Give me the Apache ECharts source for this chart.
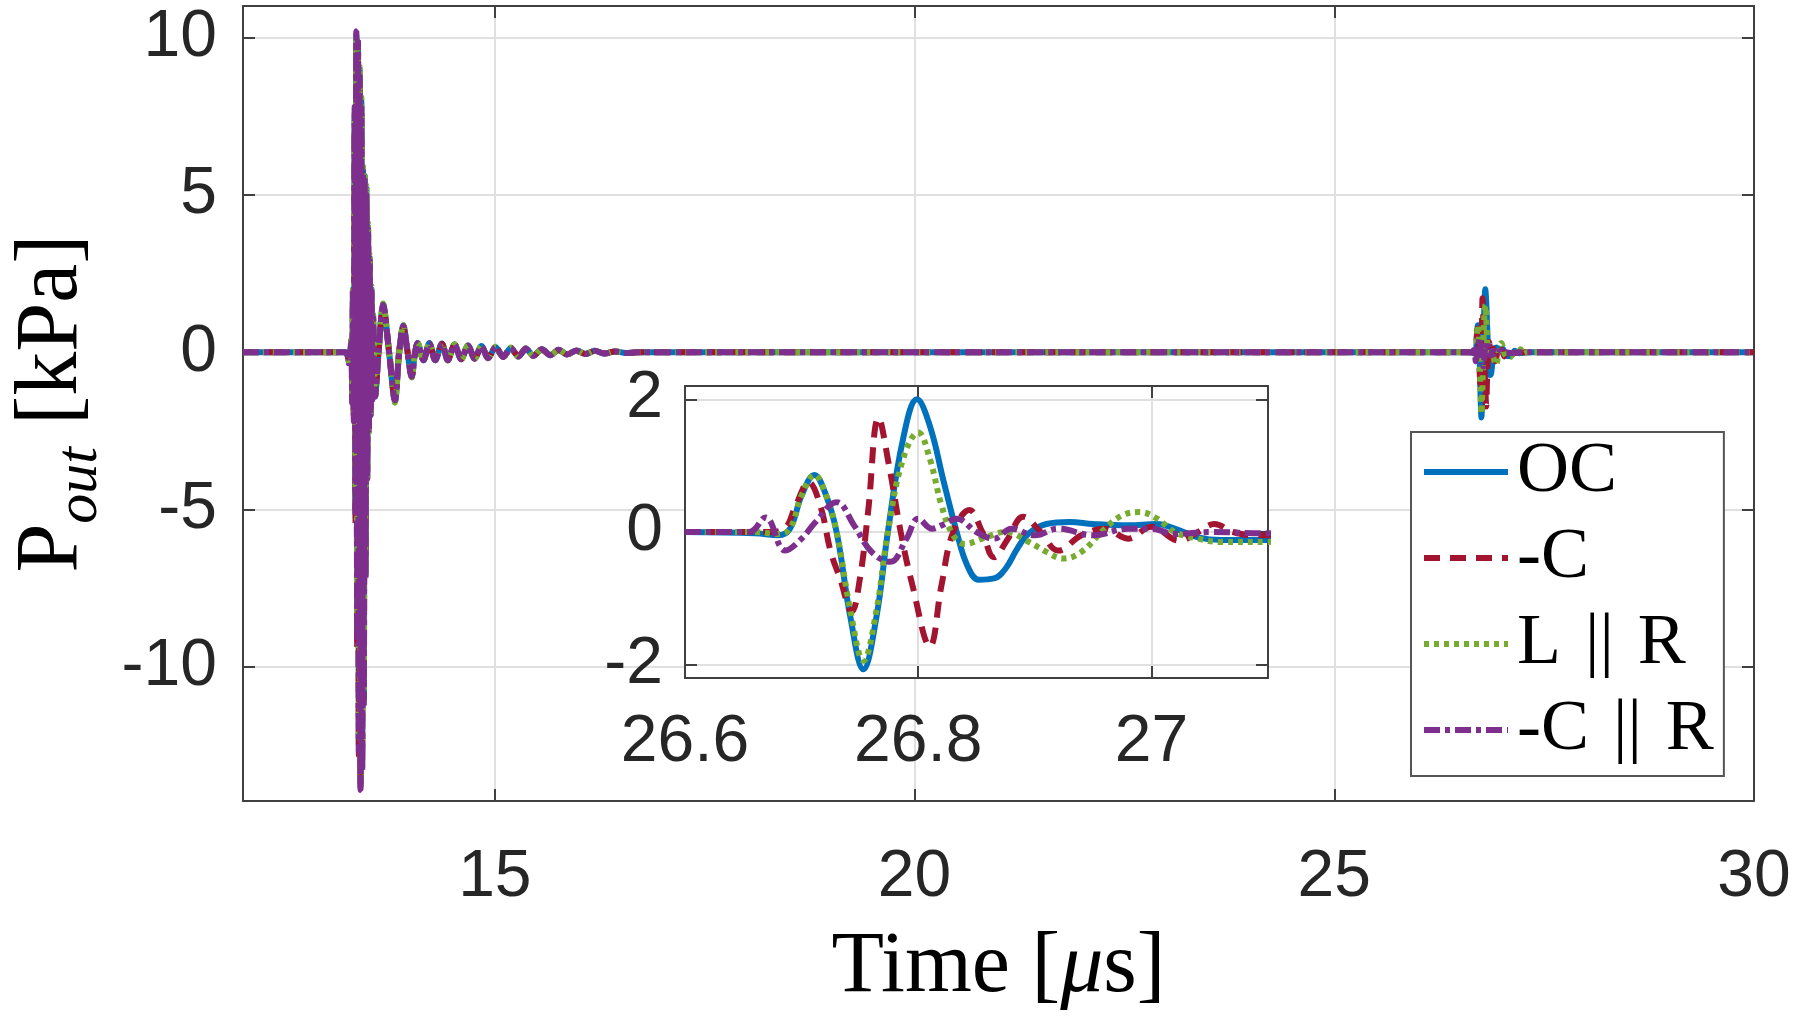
<!DOCTYPE html>
<html>
<head>
<meta charset="utf-8">
<title>Pout vs time</title>
<script src="https://cdn.jsdelivr.net/npm/echarts@6/dist/echarts.min.js"></script>
<style>
  html, body { margin: 0; padding: 0; background: #fff; }
  #main { width: 1800px; height: 1021px; }
</style>
</head>
<body>
<div id="main"></div>
<script>
// legend names / colours (matlab default order)
const names = ["OC", "-C", "L \u200a||\u200a R", "-C \u200a||\u200a R"];
const colors = ["#0072BD", "#A2142F", "#77AC30", "#7E2F8E"];
const dashes = ["solid", [16, 10], [5, 5], [16, 5, 5, 5]];

// tick values
const mainXTicks = [15, 20, 25, 30];
const mainYTicks = [-10, -5, 0, 5, 10];
const zoomXTicks = [26.6, 26.8, 27];
const zoomYTicks = [-2, 0, 2];

// first arrival: dense burst [us]
const tBurst = [13.22, 13.26, 13.29, 13.30, 13.31, 13.32, 13.33, 13.34, 13.35, 13.36, 13.37, 13.38, 13.39, 13.40,
  13.41, 13.42, 13.43, 13.44, 13.45, 13.46, 13.47, 13.48, 13.49, 13.50, 13.51, 13.52, 13.53, 13.54, 13.55];
const ocBurst = [0, -0.3, 0.4, -1.5, 2.0, -2.0, 7.5, -5.0, 10.1, -9.0, 9.8, -12.5, 9.0, -13.7,
  8.0, -13.2, 5.8, -11.0, 5.6, -7.0, 5.2, -4.0, 4.0, -2.5, 3.0, -2.0, 2.0, -1.5, 1.2];
const cBurst = [0, -0.25, 0.35, -1.4, 1.8, -2.1, 7.0, -5.5, 9.8, -9.5, 9.6, -12.8, 8.6, -13.8,
  7.6, -12.8, 5.5, -10.5, 5.3, -6.6, 4.9, -3.8, 3.8, -2.4, 2.8, -1.9, 1.9, -1.4, 1.1];
const lrBurst = [0, -0.3, 0.4, -1.5, 2.1, -1.9, 7.6, -4.8, 10.0, -8.8, 9.7, -12.3, 9.1, -13.5,
  8.1, -13.0, 5.9, -10.8, 5.7, -7.1, 5.3, -4.1, 4.1, -2.6, 3.1, -2.0, 2.1, -1.5, 1.2];
const crBurst = [0, -0.35, 0.3, -1.6, 2.0, -2.2, 7.8, -5.2, 10.2, -9.2, 9.9, -12.7, 8.8, -13.9,
  7.8, -13.3, 5.7, -11.2, 5.5, -7.2, 5.0, -4.0, 3.9, -2.5, 2.9, -2.0, 2.0, -1.5, 1.1];

// ringing after the burst
const tRing = [13.575, 13.615, 13.67, 13.74, 13.81, 13.86, 13.91, 13.96, 14.01, 14.045, 14.08, 14.15, 14.22,
  14.29, 14.37, 14.44, 14.52, 14.60, 14.68, 14.76, 14.84, 14.92, 15.01, 15.10, 15.19, 15.28, 15.37, 15.46,
  15.56, 15.66, 15.76, 15.86, 15.97, 16.08, 16.19, 16.31, 16.43, 16.56, 16.70];
const ocRing = [-1.4, 0.0, 1.5, 0.0, -1.55, 0.0, 0.85, 0.0, -0.78, -0.1, 0.3, -0.25, 0.3, -0.25, 0.28, -0.25,
  0.25, -0.22, 0.22, -0.2, 0.2, -0.18, 0.17, -0.15, 0.14, -0.13, 0.12, -0.11, 0.1, -0.09, 0.08, -0.07,
  0.06, -0.05, 0.05, -0.04, 0.03, -0.02, 0];
const cRing = [-1.35, 0.05, 1.45, 0.05, -1.5, 0.0, 0.8, 0.05, -0.75, -0.1, 0.28, -0.24, 0.28, -0.24, 0.27, -0.24,
  0.24, -0.21, 0.21, -0.19, 0.19, -0.17, 0.16, -0.14, 0.13, -0.12, 0.11, -0.1, 0.09, -0.08, 0.07, -0.06,
  0.05, -0.05, 0.04, -0.03, 0.03, -0.02, 0];
const lrRing = [-1.45, 0.0, 1.55, 0.0, -1.6, 0.0, 0.88, 0.0, -0.8, -0.1, 0.31, -0.26, 0.31, -0.26, 0.29, -0.26,
  0.26, -0.23, 0.23, -0.21, 0.21, -0.19, 0.18, -0.16, 0.15, -0.14, 0.13, -0.12, 0.11, -0.1, 0.09, -0.08,
  0.07, -0.06, 0.05, -0.04, 0.03, -0.02, 0];
const crRing = [-1.4, 0.0, 1.5, 0.0, -1.52, 0.0, 0.84, 0.0, -0.77, -0.1, 0.29, -0.25, 0.29, -0.25, 0.27, -0.25,
  0.25, -0.22, 0.22, -0.2, 0.2, -0.18, 0.17, -0.15, 0.14, -0.13, 0.12, -0.11, 0.1, -0.09, 0.08, -0.07,
  0.06, -0.05, 0.05, -0.04, 0.03, -0.02, 0];

// echo near 26.8 us, [t, p] (this is what the inset shows)
const ocEcho = [[26.6, 0], [26.66, -0.02], [26.68, -0.05], [26.69, 0.05], [26.70, 0.55], [26.711, 0.86],
  [26.72, 0.6], [26.73, 0], [26.742, -1.3], [26.753, -2.07], [26.764, -1.3], [26.774, 0], [26.787, 1.4],
  [26.799, 2.0], [26.81, 1.6], [26.822, 0.75], [26.833, 0], [26.842, -0.5], [26.852, -0.72], [26.865, -0.7],
  [26.875, -0.55], [26.885, -0.25], [26.895, -0.02], [26.91, 0.12], [26.93, 0.15], [26.95, 0.12],
  [26.98, 0.1], [27.005, 0.12], [27.02, 0.05], [27.04, -0.08], [27.06, -0.12], [27.1, -0.12],
  [27.15, 0.05], [27.2, -0.03], [27.3, 0]];
const cEcho = [[26.6, 0], [26.67, 0], [26.685, 0.05], [26.695, 0.4], [26.706, 0.75], [26.716, 0.4],
  [26.725, -0.3], [26.733, -0.7], [26.743, -1.2], [26.75, -0.7], [26.757, 0.3], [26.766, 1.72],
  [26.775, 1.0], [26.785, 0.0], [26.795, -0.8], [26.81, -1.72], [26.82, -0.8], [26.83, 0.0], [26.844, 0.33],
  [26.855, 0.0], [26.865, -0.38], [26.877, -0.1], [26.89, 0.23], [26.905, 0.0], [26.92, -0.28],
  [26.94, -0.05], [26.96, 0.05], [26.98, -0.1], [27.0, 0.08], [27.024, -0.13], [27.04, 0.0],
  [27.054, 0.12], [27.07, 0.0], [27.09, -0.05], [27.1, -0.05], [27.2, 0], [27.3, 0]];
const lrEcho = [[26.6, 0], [26.66, 0], [26.68, -0.03], [26.69, 0.05], [26.70, 0.55], [26.711, 0.86],
  [26.72, 0.6], [26.73, 0], [26.742, -1.2], [26.753, -1.94], [26.764, -1.2], [26.774, 0], [26.787, 1.1],
  [26.80, 1.5], [26.81, 1.1], [26.82, 0.4], [26.83, -0.05], [26.84, -0.18], [26.855, -0.1], [26.875, 0.0],
  [26.895, -0.15], [26.91, -0.3], [26.924, -0.4], [26.94, -0.3], [26.96, 0.05], [26.975, 0.25],
  [26.99, 0.3], [27.005, 0.2], [27.02, 0.0], [27.04, -0.1], [27.06, -0.15], [27.1, -0.15],
  [27.14, 0.1], [27.18, -0.1], [27.22, 0.1], [27.26, -0.05], [27.3, 0]];
const crEcho = [[26.6, 0], [26.655, 0], [26.669, 0.22], [26.686, -0.28], [26.70, -0.1], [26.712, 0.15],
  [26.73, 0.45], [26.745, 0.1], [26.76, -0.3], [26.776, -0.45], [26.79, -0.1], [26.80, 0.2],
  [26.812, 0.05], [26.82, 0.1], [26.833, 0.2], [26.85, 0.0], [26.865, -0.1], [26.88, 0.05],
  [26.9, -0.05], [26.92, 0.05], [26.95, -0.05], [26.98, 0.05], [27.0, 0.05], [27.02, -0.03],
  [27.05, 0.0], [27.1, -0.02], [27.2, 0], [27.3, 0]];

const bursts = [ocBurst, cBurst, lrBurst, crBurst];
const rings = [ocRing, cRing, lrRing, crRing];
const echoes = [ocEcho, cEcho, lrEcho, crEcho];

const zip = (t, v) => t.map((x, i) => [x, v[i]]);
const mainData = (i) => [[12, 0]].concat(zip(tBurst, bursts[i]), zip(tRing, rings[i]), echoes[i], [[30, 0]]);

const sansFont = "Liberation Sans, Arial, sans-serif";
const serifFont = "Liberation Serif, Times New Roman, serif";
const axisCol = "#404040";
const gridCol = "#e0e0e0";
const lw = 6;

// one axis helper, so all 8 axes look the same
function axis(o) {
  return Object.assign({
    type: "value",
    axisLine: { show: true, onZero: false, lineStyle: { color: axisCol, width: 2 } },
    axisTick: { inside: true, length: 12, customValues: o.ticks, lineStyle: { color: axisCol, width: 2 } },
    axisLabel: {
      show: !o.hideLabel, customValues: o.ticks, fontSize: 66, fontFamily: sansFont, color: "#262626",
      margin: o.margin, formatter: (v) => String(+v.toFixed(1)),
    },
    splitLine: { show: !o.hideLabel, lineStyle: { color: gridCol, width: 2 } },
  }, o.extra);
}

const series = [];
names.forEach((n, i) => {
  series.push({
    name: n, type: "line", xAxisIndex: 0, yAxisIndex: 0, data: mainData(i),
    symbol: "none", smooth: 0.3, z: 2,
    lineStyle: { color: colors[i], width: lw, type: dashes[i], cap: "butt" },
    itemStyle: { color: colors[i] },
  });
});
names.forEach((n, i) => {
  series.push({
    name: n, type: "line", xAxisIndex: 2, yAxisIndex: 2, data: echoes[i],
    symbol: "none", smooth: 0.4, z: 7,
    lineStyle: { color: colors[i], width: lw, type: dashes[i], cap: "butt" },
    itemStyle: { color: colors[i] },
  });
});

const chart = echarts.init(document.getElementById("main"));
chart.setOption({
  animation: false,
  backgroundColor: "#fff",
  grid: [
    { left: 243, top: 6, width: 1511, height: 795, show: true, backgroundColor: "#fff", borderWidth: 0, z: 0 },
    { left: 685, top: 386, width: 583, height: 292, show: true, backgroundColor: "#fff", borderWidth: 0, z: 5 },
  ],
  xAxis: [
    axis({ ticks: mainXTicks, margin: 44, extra: {
      gridIndex: 0, min: 12, max: 30, position: "bottom",
      name: "{a|Time [}{m|\u03bc}{a|s]}", nameLocation: "middle", nameGap: 124,
      nameTextStyle: { fontFamily: serifFont, fontSize: 86, color: "#000", rich: {
        a: { fontFamily: serifFont, fontSize: 86, color: "#000" },
        m: { fontFamily: serifFont, fontSize: 86, fontStyle: "italic", color: "#000" },
      } },
    } }),
    axis({ ticks: mainXTicks, hideLabel: true, extra: { gridIndex: 0, min: 12, max: 30, position: "top" } }),
    axis({ ticks: zoomXTicks, margin: 32, extra: { gridIndex: 1, min: 26.6, max: 27.1, position: "bottom", z: 6 } }),
    axis({ ticks: zoomXTicks, hideLabel: true, extra: { gridIndex: 1, min: 26.6, max: 27.1, position: "top", z: 6 } }),
  ],
  yAxis: [
    axis({ ticks: mainYTicks, margin: 26, extra: {
      gridIndex: 0, min: -14.25, max: 11, position: "left",
      name: "{p|P}{s|out}{u| [kPa]}", nameLocation: "middle", nameRotate: 90, nameGap: 125,
      nameTextStyle: { fontFamily: serifFont, fontSize: 86, color: "#000", rich: {
        p: { fontFamily: serifFont, fontSize: 88, lineHeight: 88, verticalAlign: "top", color: "#000" },
        s: { fontFamily: serifFont, fontSize: 60, lineHeight: 60, fontStyle: "italic", verticalAlign: "top",
          padding: [42, 0, 0, 0], color: "#000" },
        u: { fontFamily: serifFont, fontSize: 88, lineHeight: 88, verticalAlign: "top", color: "#000" },
      } },
    } }),
    axis({ ticks: mainYTicks, hideLabel: true, extra: { gridIndex: 0, min: -14.25, max: 11, position: "right" } }),
    axis({ ticks: zoomYTicks, margin: 22, extra: { gridIndex: 1, min: -2.2, max: 2.2, position: "left", z: 6 } }),
    axis({ ticks: zoomYTicks, hideLabel: true, extra: { gridIndex: 1, min: -2.2, max: 2.2, position: "right", z: 6 } }),
  ],
  legend: {
    data: names, orient: "vertical", left: 1411, top: 432,
    padding: [4, 10, 10, 10], itemGap: 14, itemWidth: 84, itemHeight: 14,
    backgroundColor: "#fff", borderColor: "#555", borderWidth: 2, borderRadius: 0,
    selectedMode: false, z: 10,
    itemStyle: { opacity: 0 },
    lineStyle: { width: 6 },
    textStyle: { fontFamily: serifFont, fontSize: 72, color: "#000", padding: [0, 0, 0, 4] },
  },
  series: series,
});
</script>
</body>
</html>
